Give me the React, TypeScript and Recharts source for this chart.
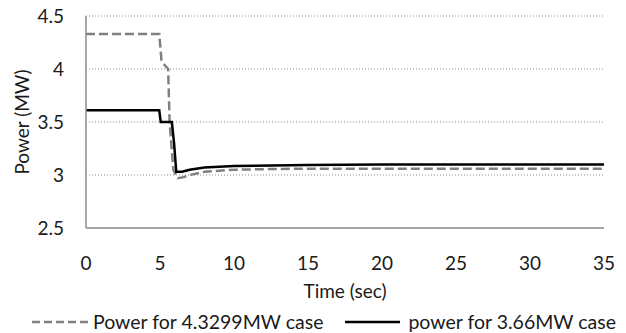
import { CartesianGrid, Legend, Line, LineChart, XAxis, YAxis } from 'recharts'

const xTicks = [0, 5, 10, 15, 20, 25, 30, 35]
const yTicks = [2.5, 3, 3.5, 4, 4.5]

// Power for 4.3299MW case (dashed)
const bigTime = [0, 4.95, 5.1, 5.3, 5.55, 5.65, 5.9, 6.2, 6.6, 7, 8, 9, 10, 12, 15, 20, 25, 30, 35]
const bigPower = [4.33, 4.33, 4.08, 4.04, 4.0, 3.5, 3.05, 2.97, 2.98, 3.0, 3.03, 3.04, 3.05, 3.055, 3.06, 3.06, 3.06, 3.06, 3.06]

// power for 3.66MW case (solid)
const smallTime = [0, 4.95, 5.05, 5.8, 5.95, 6.1, 6.5, 7, 8, 10, 15, 20, 25, 30, 35]
const smallPower = [3.61, 3.61, 3.5, 3.5, 3.3, 3.03, 3.03, 3.05, 3.07, 3.085, 3.095, 3.1, 3.1, 3.1, 3.1]

const bigData = bigTime.map((t, i) => ({ t, p: bigPower[i] }))
const smallData = smallTime.map((t, i) => ({ t, p: smallPower[i] }))

const FONT = 'Lato, "Open Sans", sans-serif'
const TEXT = '#1a1a1a'
const FS = 19

function LegendContent() {
  return (
    <div style={{ display: 'flex', alignItems: 'center', fontFamily: FONT, fontSize: 19.5, color: TEXT, whiteSpace: 'nowrap', lineHeight: '20px' }}>
      <svg width={56} height={10} style={{ marginRight: 5 }}>
        <line x1={0} y1={5} x2={56} y2={5} stroke="#808080" strokeWidth={2.5} strokeDasharray="8 4" />
      </svg>
      <span>Power for 4.3299MW case</span>
      <svg width={55} height={10} style={{ marginLeft: 22, marginRight: 8 }}>
        <line x1={0} y1={5} x2={55} y2={5} stroke="#000" strokeWidth={2.5} />
      </svg>
      <span>power for 3.66MW case</span>
    </div>
  )
}

export default function App() {
  return (
    <div style={{ position: 'absolute', left: 0, top: 0, width: 626, height: 333, background: '#fff' }}>
      <LineChart width={626} height={333} margin={{ top: 16, right: 22, bottom: 0, left: 0 }}>
        <CartesianGrid horizontal vertical={false} stroke="#8c8c8c" strokeDasharray="1 2" />
        <XAxis
          dataKey="t"
          type="number"
          domain={[0, 35]}
          ticks={xTicks}
          height={85}
          tickLine={false}
          tickSize={0}
          tickMargin={29}
          axisLine={{ stroke: '#8c8c8c', strokeWidth: 1.5 }}
          tick={{ fill: TEXT, fontSize: FS, fontFamily: FONT }}
          label={{ value: 'Time (sec)', position: 'insideTop', offset: 57, fill: TEXT, fontSize: FS, fontFamily: FONT }}
        />
        <YAxis
          dataKey="p"
          type="number"
          domain={[2.5, 4.5]}
          ticks={yTicks}
          width={86}
          tickLine={false}
          tickSize={0}
          tickMargin={22}
          axisLine={{ stroke: '#8c8c8c', strokeWidth: 1.5 }}
          tick={{ fill: TEXT, fontSize: FS, fontFamily: FONT }}
          label={{ value: 'Power (MW)', angle: -90, position: 'insideLeft', offset: 22, fill: TEXT, fontSize: FS, fontFamily: FONT, style: { textAnchor: 'middle' } }}
        />
        <Legend
          verticalAlign="bottom"
          content={<LegendContent />}
          wrapperStyle={{ position: 'absolute', left: 32, top: 312, width: 'auto' }}
        />
        <Line
          data={bigData}
          dataKey="p"
          type="linear"
          stroke="#808080"
          strokeWidth={2.5}
          strokeDasharray="9 4"
          dot={false}
          isAnimationActive={false}
        />
        <Line
          data={smallData}
          dataKey="p"
          type="linear"
          stroke="#000"
          strokeWidth={2.5}
          dot={false}
          isAnimationActive={false}
        />
      </LineChart>
    </div>
  )
}
